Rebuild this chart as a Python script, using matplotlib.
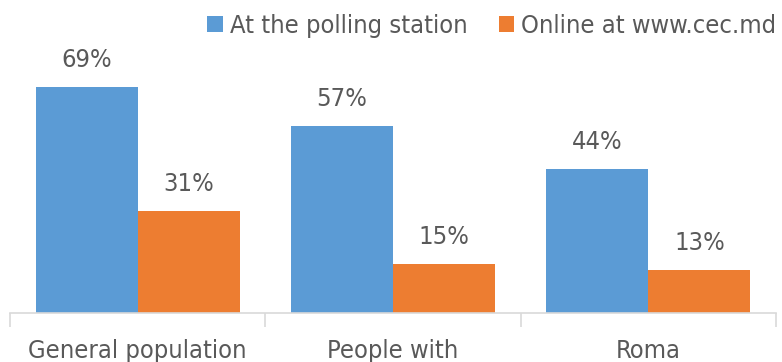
import matplotlib
matplotlib.use("Agg")
import matplotlib.pyplot as plt
import numpy as np

categories = ["General population", "People with", "Roma"]
series_names = ["At the polling station", "Online at www.cec.md"]
polling = [69, 57, 44]
online = [31, 15, 13]
colors = ["#5B9BD5", "#ED7D31"]
text_color = "#595959"

plt.rcParams["font.family"] = ["DejaVu Sans"]
plt.rcParams["font.stretch"] = "condensed"
FS = 18.3

W, H = 782, 362
fig = plt.figure(figsize=(W / 100, H / 100), dpi=100)
left, right, bottom, top = 10, 776, 313, 51
ax = fig.add_axes([left / W, 1 - bottom / H, (right - left) / W, (bottom - top) / H])

x = np.arange(len(categories))
bw = 0.4
b1 = ax.bar(x - bw / 2, polling, bw, color=colors[0], label=series_names[0])
b2 = ax.bar(x + bw / 2, online, bw, color=colors[1], label=series_names[1])
for bars in (b1, b2):
    for r in bars:
        ax.annotate(f"{r.get_height():.0f}%", (r.get_x() + r.get_width() / 2, r.get_height()),
                    xytext=(0, 11), textcoords="offset points", ha="center", va="bottom",
                    fontsize=FS, color=text_color)

ax.set_xlim(-0.5, len(categories) - 0.5)
ax.set_ylim(0, 80)
ax.set_yticks([])
for s in ["top", "right", "left"]:
    ax.spines[s].set_visible(False)
ax.spines["bottom"].set_color("#D9D9D9")
ax.spines["bottom"].set_linewidth(1.2)
ax.set_xticks(np.arange(len(categories) + 1) - 0.5)
ax.set_xticklabels([""] * (len(categories) + 1))
ax.tick_params(axis="x", length=10, color="#D9D9D9", width=1.2)
for i, c in enumerate(categories):
    ax.text(i, -0.1, c, transform=ax.get_xaxis_transform(), ha="center", va="top",
            fontsize=FS, color=text_color)

leg = fig.legend(loc="center", bbox_to_anchor=(492 / W, 1 - 26 / H), ncol=2, frameon=False,
                 fontsize=FS, handlelength=0.6, handleheight=0.6, handletextpad=0.3,
                 columnspacing=1.2, labelcolor=text_color)

fig.savefig("out.png", dpi=100)
